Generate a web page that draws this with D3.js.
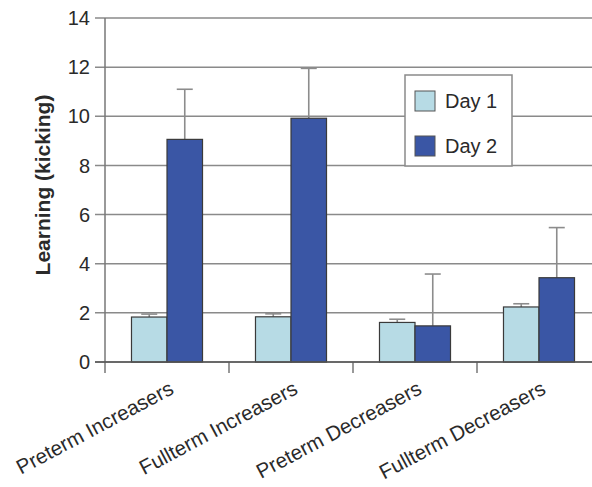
<!DOCTYPE html>
<html lang="en">
    <head>
        <meta charset="utf-8">
        <title>Learning (kicking)</title>
        <script type="text/javascript" src="https://cdn.jsdelivr.net/npm/d3@7"></script>
        <style type="text/css">
          body { margin: 0; background: white; }
          text {
            font-family: "Liberation Sans", Arial, sans-serif;
            fill: #2a2a2a;
          }
          .tick-label { font-size: 20px; }
          .cat-label { font-size: 20.5px; }
          .title {
            font-size: 21px;
            font-weight: bold;
            text-anchor: middle;
          }
          .grid { stroke: #8a8a8a; stroke-width: 1.5; }
          .err { stroke: #8c8c8c; stroke-width: 1.6; fill: none; }
        </style>
    </head>
    <body>
        <script type="text/javascript">
            // Data
            var categories = ["Preterm Increasers", "Fullterm Increasers", "Preterm Decreasers", "Fullterm Decreasers"];
            var series = ["Day 1", "Day 2"];
            var day1 = [1.83, 1.84, 1.61, 2.24];
            var day2 = [9.06, 9.92, 1.47, 3.43];
            var day1Err = [0.12, 0.12, 0.13, 0.13];
            var day2Err = [2.04, 2.03, 2.11, 2.04];
            var yTicks = [0, 2, 4, 6, 8, 10, 12, 14];
            var colors = ["#b7dbe5", "#3a56a5"];

            var w = 592, h = 487;

            var svg = d3.select("body").append("svg")
            .attr("width", w)
            .attr("height", h);

            // Scales
            var x = d3.scaleBand()
            .domain(categories)
            .range([105, 601]);

            var xInner = d3.scaleBand()
            .domain(series)
            .range([0, x.bandwidth()])
            .paddingOuter(0.746)
            .paddingInner(0);

            var y = d3.scaleLinear()
            .domain([0, 14])
            .range([362, 18]);

            // Grid lines
            svg.append("g")
            .selectAll("line")
            .data(yTicks)
            .enter()
            .append("line")
            .attr("class", "grid")
            .attr("x1", 95)
            .attr("x2", w)
            .attr("y1", function(d) { return y(d); })
            .attr("y2", function(d) { return y(d); });

            // Y axis line
            svg.append("line")
            .attr("x1", 105).attr("x2", 105)
            .attr("y1", y(14)).attr("y2", y(0) + 11)
            .style("stroke", "#777")
            .style("stroke-width", 1.5);

            // Y tick labels
            svg.append("g")
            .selectAll("text")
            .data(yTicks)
            .enter()
            .append("text")
            .attr("class", "tick-label")
            .attr("x", 90)
            .attr("y", function(d) { return y(d); })
            .attr("dy", "0.36em")
            .style("text-anchor", "end")
            .text(function(d) { return d; });

            // Category ticks
            svg.append("g")
            .selectAll("line")
            .data(categories.slice(1))
            .enter()
            .append("line")
            .attr("x1", function(d) { return x(d); })
            .attr("x2", function(d) { return x(d); })
            .attr("y1", y(0))
            .attr("y2", y(0) + 11)
            .style("stroke", "#777")
            .style("stroke-width", 1.5);

            // Bars
            var rows = categories.map(function(c, i) {
              return [
                {cat: c, s: series[0], v: day1[i], e: day1Err[i], color: colors[0]},
                {cat: c, s: series[1], v: day2[i], e: day2Err[i], color: colors[1]}
              ];
            });
            var flat = [].concat.apply([], rows);

            // Error bars (drawn first, bar covers lower part)
            var errs = svg.append("g");
            errs.selectAll("line.stem")
            .data(flat)
            .enter()
            .append("line")
            .attr("class", "err")
            .attr("x1", function(d) { return x(d.cat) + xInner(d.s) + xInner.bandwidth() / 2; })
            .attr("x2", function(d) { return x(d.cat) + xInner(d.s) + xInner.bandwidth() / 2; })
            .attr("y1", function(d) { return y(d.v); })
            .attr("y2", function(d) { return y(d.v + d.e); });

            errs.selectAll("line.cap")
            .data(flat)
            .enter()
            .append("line")
            .attr("class", "err")
            .attr("x1", function(d) { return x(d.cat) + xInner(d.s) + xInner.bandwidth() / 2 - 8; })
            .attr("x2", function(d) { return x(d.cat) + xInner(d.s) + xInner.bandwidth() / 2 + 8; })
            .attr("y1", function(d) { return y(d.v + d.e); })
            .attr("y2", function(d) { return y(d.v + d.e); });

            svg.append("g")
            .selectAll("rect")
            .data(flat)
            .enter()
            .append("rect")
            .attr("x", function(d) { return x(d.cat) + xInner(d.s); })
            .attr("y", function(d) { return y(d.v); })
            .attr("width", xInner.bandwidth())
            .attr("height", function(d) { return y(0) - y(d.v); })
            .style("fill", function(d) { return d.color; })
            .style("stroke", "#3a3a3a")
            .style("stroke-width", 1.2);

            // Baseline over bars
            svg.append("line")
            .attr("class", "grid")
            .attr("x1", 95).attr("x2", w)
            .attr("y1", y(0)).attr("y2", y(0))
            .style("stroke", "#555");

            // Category labels
            svg.append("g")
            .selectAll("text")
            .data(categories)
            .enter()
            .append("text")
            .attr("class", "cat-label")
            .attr("transform", function(d) {
              return "translate(" + (x(d) + x.bandwidth() / 2 + 8) + "," + 393 + ") rotate(-28)";
            })
            .style("text-anchor", "end")
            .text(function(d) { return d; });

            // Axis title
            svg.append("text")
            .attr("class", "title")
            .attr("transform", "translate(50,185) rotate(-90)")
            .text("Learning (kicking)");

            // Legend
            var legend = svg.append("g");

            legend.append("rect")
            .attr("x", 405)
            .attr("y", 75)
            .attr("width", 107)
            .attr("height", 91)
            .style("fill", "white")
            .style("stroke", "#8a8a8a")
            .style("stroke-width", 1.5);

            legend.selectAll("rect.sw")
            .data(series)
            .enter()
            .append("rect")
            .attr("x", 415)
            .attr("y", function(d, i) { return 91 + i * 45; })
            .attr("width", 20)
            .attr("height", 20)
            .style("fill", function(d, i) { return colors[i]; })
            .style("stroke", "#555")
            .style("stroke-width", 1);

            legend.selectAll("text")
            .data(series)
            .enter()
            .append("text")
            .attr("class", "tick-label")
            .attr("x", 445)
            .attr("y", function(d, i) { return 108 + i * 45; })
            .text(function(d) { return d; });
        </script>
    </body>
</html>
